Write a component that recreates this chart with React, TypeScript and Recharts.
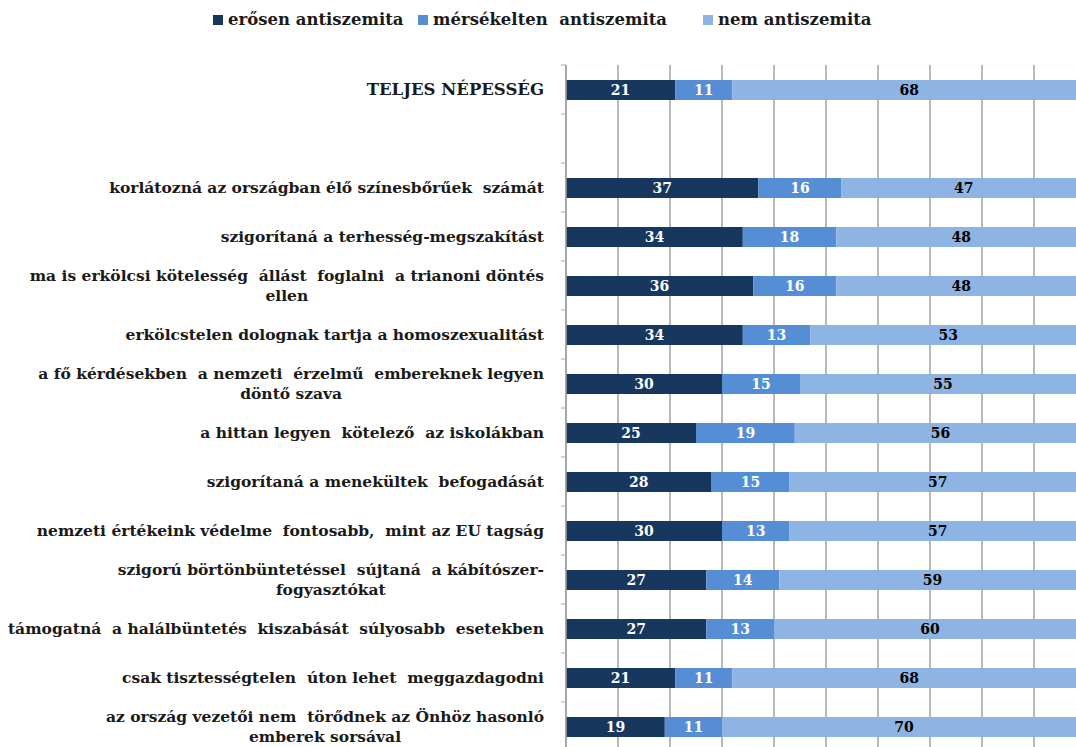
import { BarChart, Bar, XAxis, YAxis, CartesianGrid, LabelList } from "recharts";

const categories = [
  "TELJES NÉPESSÉG",
  "",
  "korlátozná az országban élő színesbőrűek  számát",
  "szigorítaná a terhesség-megszakítást",
  "ma is erkölcsi kötelesség  állást  foglalni  a trianoni döntés\nellen",
  "erkölcstelen dolognak tartja a homoszexualitást",
  "a fő kérdésekben  a nemzeti  érzelmű  embereknek legyen\ndöntő szava",
  "a hittan legyen  kötelező  az iskolákban",
  "szigorítaná a menekültek  befogadását",
  "nemzeti értékeink védelme  fontosabb,  mint az EU tagság",
  "szigorú börtönbüntetéssel  sújtaná  a kábítószer-\nfogyasztókat",
  "támogatná  a halálbüntetés  kiszabását  súlyosabb  esetekben",
  "csak tisztességtelen  úton lehet  meggazdagodni",
  "az ország vezetői nem  törődnek az Önhöz hasonló\nemberek sorsával",
];
const strong = [21, null, 37, 34, 36, 34, 30, 25, 28, 30, 27, 27, 21, 19];
const moderate = [11, null, 16, 18, 16, 13, 15, 19, 15, 13, 14, 13, 11, 11];
const none = [68, null, 47, 48, 48, 53, 55, 56, 57, 57, 59, 60, 68, 70];
const seriesNames = ["erősen antiszemita", "mérsékelten  antiszemita", "nem antiszemita"];
const xTicks = [0, 10, 20, 30, 40, 50, 60, 70, 80, 90, 100];

const colors = ["#17375E", "#558ED5", "#8EB4E3"];
const labelColors = ["#ffffff", "#ffffff", "#000000"];
const FONT = "DejaVu Serif";

const data = categories.map((name, i) => ({
  name,
  strong: strong[i],
  moderate: moderate[i],
  none: none[i],
}));

const W = 1110;
const H = 780;
const TOP = 65;
const BOTTOM = 29;
const ROW = (H - TOP - BOTTOM) / categories.length;

let ctx: CanvasRenderingContext2D | null = null;
function textWidth(s: string, font: string) {
  if (!ctx) ctx = document.createElement("canvas").getContext("2d");
  if (!ctx) return s.length * 7;
  ctx.font = font;
  return ctx.measureText(s).width;
}

function YTick(props: any) {
  const { y, payload, index } = props;
  const lines = String(payload.value).split("\n");
  const size = index === 0 ? 16.5 : 15.5;
  const lh = 20;
  const axisX = 566;
  const right = 544;
  const multi = lines.length > 1;
  const cx = multi ? right - textWidth(lines[0], `bold ${size}px "${FONT}"`) / 2 : right;
  const y0 = y - ((lines.length - 1) * lh) / 2;
  return (
    <g>
      <line x1={axisX - 5} x2={axisX} y1={y - ROW / 2} y2={y - ROW / 2} stroke="#a6a6a6" />
      {index === categories.length - 1 && (
        <line x1={axisX - 5} x2={axisX} y1={y + ROW / 2} y2={y + ROW / 2} stroke="#a6a6a6" />
      )}
      <text
        textAnchor={multi ? "middle" : "end"}
        fontFamily={FONT}
        fontWeight="bold"
        fontSize={size}
        fill="#1a1a1a"
        style={{ whiteSpace: "pre" }}
      >
        {lines.map((l, i) => (
          <tspan key={i} x={cx} y={y0 + i * lh} dy="0.35em">
            {l}
          </tspan>
        ))}
      </text>
    </g>
  );
}

function Legend() {
  const lefts = [213, 418, 703];
  return (
    <>
      {seriesNames.map((n, i) => (
        <div
          key={n}
          style={{
            position: "absolute",
            left: lefts[i],
            top: 10,
            display: "flex",
            alignItems: "center",
            fontFamily: FONT,
            fontWeight: "bold",
            fontSize: 16.5,
            color: "#1a1a1a",
            whiteSpace: "pre",
          }}
        >
          <span style={{ width: 10, height: 10, background: colors[i], marginRight: 5 }} />
          {n}
        </div>
      ))}
    </>
  );
}

export default function App() {
  const keys = ["strong", "moderate", "none"];
  return (
    <div
      style={{
        position: "fixed",
        left: 0,
        top: 0,
        width: 1076,
        height: 747,
        overflow: "hidden",
        background: "#fff",
      }}
    >
      <Legend />
      <BarChart
        width={W}
        height={H}
        data={data}
        layout="vertical"
        margin={{ top: TOP, right: 24, bottom: BOTTOM, left: 0 }}
        barSize={20}
      >
        <CartesianGrid horizontal={false} stroke="#a0a0a0" strokeWidth={1.5} />
        <XAxis type="number" domain={[0, 100]} ticks={xTicks} hide />
        <YAxis
          type="category"
          dataKey="name"
          width={566}
          tickLine={false}
          tickMargin={22}
          axisLine={{ stroke: "#a0a0a0", strokeWidth: 1.5 }}
          tick={<YTick />}
          interval={0}
        />
        {keys.map((k, i) => (
          <Bar key={k} dataKey={k} name={seriesNames[i]} stackId="a" fill={colors[i]} isAnimationActive={false}>
            <LabelList
              dataKey={k}
              position="center"
              fill={labelColors[i]}
              fontFamily={FONT}
              fontWeight="bold"
              fontSize={14}
            />
          </Bar>
        ))}
      </BarChart>
    </div>
  );
}
